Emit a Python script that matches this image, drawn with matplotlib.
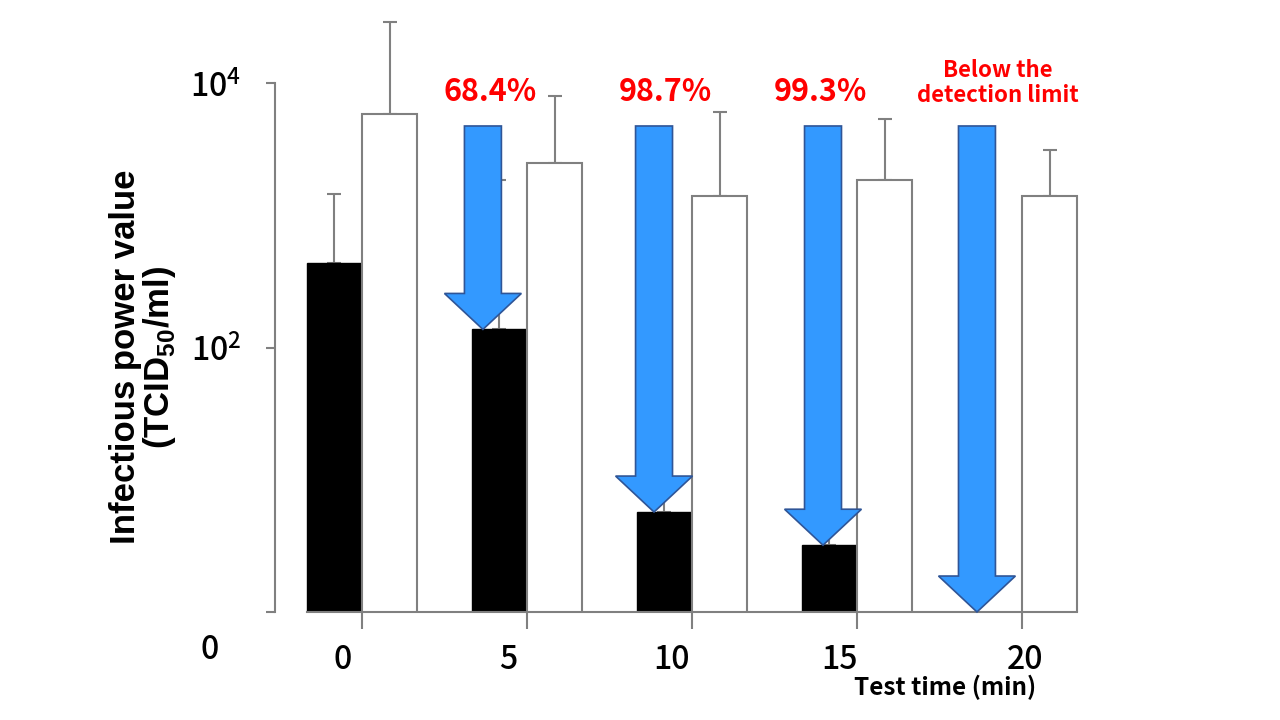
import numpy as np
import matplotlib
matplotlib.use("Agg")
import matplotlib.pyplot as plt

# data
times = ["0", "5", "10", "15", "20"]
treated = [433, 137, 5.7, 3.2, None]          # black bars (None = below detection limit)
treated_err_top = [1445, 1841, 60, 40, None]
control = [5820, 2477, 1393, 1841, 1393]       # white bars
control_err_top = [29000, 7980, 6030, 5330, 3100]
reductions = ["68.4%", "98.7%", "99.3%", "Below the\ndetection limit"]
arrow_tips = [137, 5.7, 3.2, 1.0]

plt.rcParams['font.family'] = ['Noto Sans CJK JP', 'DejaVu Sans']

fig = plt.figure(figsize=(12.8, 7.2), dpi=100)
ax = fig.add_axes([275 / 1280, 1 - 612 / 720, (1090 - 275) / 1280, (612 - 83) / 720])
ax.set_yscale('log')
ax.set_xlim(-0.527, 4.412)
ax.set_ylim(1, 1e4)

x = np.arange(len(times))
w = 0.335
gray = '#808080'

# black bars
bx = [x[i] for i in range(len(times)) if treated[i] is not None]
bv = [treated[i] for i in range(len(times)) if treated[i] is not None]
be = [treated_err_top[i] - treated[i] for i in range(len(times)) if treated[i] is not None]
ax.bar(bx, bv, width=-w, align='edge', color='black', edgecolor='black', zorder=2)
ax.errorbar(np.array(bx) - w / 2, bv, yerr=[np.zeros(len(bv)), be], fmt='none',
            ecolor=gray, elinewidth=1.5, capsize=5, capthick=1.5, zorder=1.5, clip_on=False)

# white bars
ax.bar(x, control, width=w, align='edge', color='white', edgecolor=gray, linewidth=1.5, zorder=2)
ce = [control_err_top[i] - control[i] for i in range(len(times))]
ax.errorbar(x + w / 2, control, yerr=[np.zeros(len(control)), ce], fmt='none',
            ecolor=gray, elinewidth=1.5, capsize=5, capthick=1.5, zorder=1.5, clip_on=False)

# blue arrows
arrow_x = [0.733, 1.77, 2.794, 3.727]
top = 10 ** 3.675
sw, hw = 0.112, 0.233
for cx, tip in zip(arrow_x, arrow_tips):
    hs = tip * 10 ** 0.272
    px = [cx - sw, cx + sw, cx + sw, cx + hw, cx, cx - hw, cx - sw]
    py = [top, top, hs, hs, tip, hs, hs]
    ax.fill(px, py, facecolor='#3399FF', edgecolor='#2F5597', linewidth=1.2,
            zorder=4, clip_on=False)

# red labels
lab_x = [490, 665, 820, 998]
for i, t in enumerate(reductions):
    if '\n' in t:
        fig.text(lab_x[i] / 1280, 1 - 83 / 720, t, color='red', fontsize=16, fontweight='bold',
                 ha='center', va='center', linespacing=1.1)
    else:
        fig.text(lab_x[i] / 1280, 1 - 92 / 720, t, color='red', fontsize=22, fontweight='bold',
                 ha='center', va='center')

# axes styling
for s in ['top', 'right']:
    ax.spines[s].set_visible(False)
ax.spines['left'].set_color(gray)
ax.spines['left'].set_linewidth(1.5)
ax.spines['left'].set_bounds(1, 1e4)
ax.spines['bottom'].set_color(gray)
ax.spines['bottom'].set_linewidth(1.5)
ax.spines['bottom'].set_bounds(-w, 4 + w)

ax.yaxis.set_minor_locator(matplotlib.ticker.NullLocator())
ax.set_yticks([1, 100, 10000])
ax.set_yticklabels(['', r'$\mathregular{10^2}$', r'$\mathregular{10^4}$'], fontsize=23,
                   fontweight='medium')
ax.tick_params(axis='y', direction='out', length=6.5, width=1.5, color=gray, pad=18)
ax.set_xticks(x)
ax.set_xticklabels([])
ax.tick_params(axis='x', direction='out', length=12, width=1.5, color=gray)

xlab_px = [343, 508, 672, 840, 1025]
for t, p in zip(times, xlab_px):
    fig.text(p / 1280, 1 - 660 / 720, t, fontsize=23, fontweight='medium', ha='center', va='center')
fig.text(210 / 1280, 1 - 650 / 720, '0', fontsize=23, fontweight='medium', ha='center', va='center')

fig.text(945 / 1280, 1 - 687 / 720, 'Test time (min)', fontsize=17.5, fontweight='bold',
         ha='center', va='center')

fig.text(125 / 1280, 1 - 357 / 720, 'Infectious power value', fontsize=25, fontweight='bold',
         family='Liberation Sans', rotation=90, ha='center', va='center')
fig.text(160 / 1280, 1 - 357 / 720, r'(TCID$_{\mathregular{50}}$/ml)', fontsize=25,
         fontweight='bold', family='Liberation Sans', rotation=90, ha='center', va='center')

fig.savefig('out.png', dpi=100)
